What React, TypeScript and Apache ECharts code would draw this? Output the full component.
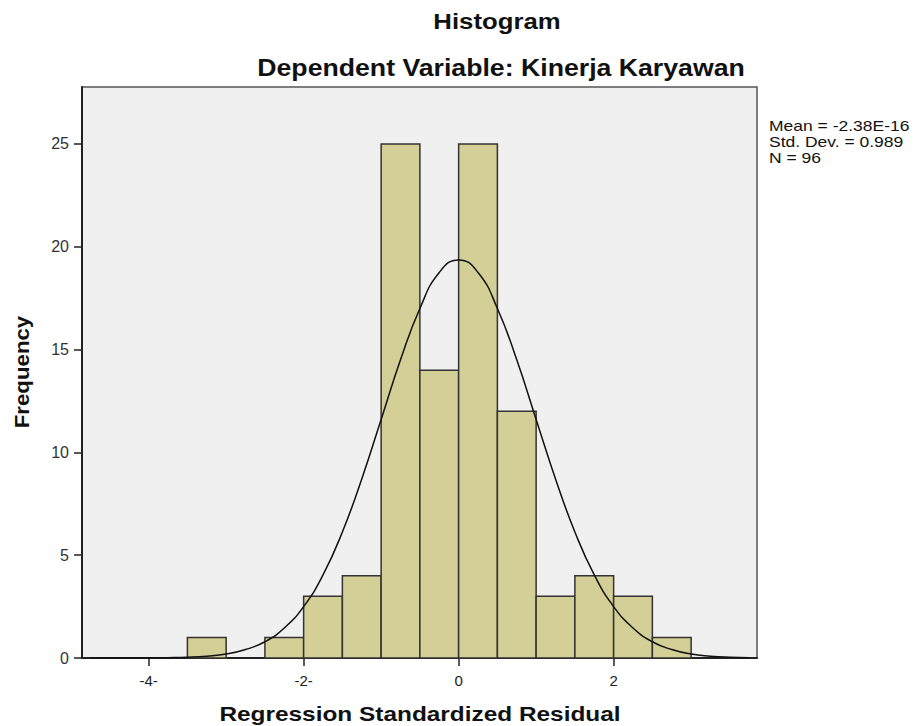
import React, { useEffect, useRef } from "react";
import * as echarts from "echarts";

// Histogram bins (width 0.5) and their frequencies
const binStarts = [-3.5, -2.5, -2.0, -1.5, -1.0, -0.5, 0.0, 0.5, 1.0, 1.5, 2.0, 2.5];
const binWidth = 0.5;
const frequencies = [1, 1, 3, 4, 25, 14, 25, 12, 3, 4, 3, 1];

// Normal curve
const curveX = [-4.75, -4.5, -4.25, -4.0, -3.75, -3.5, -3.25, -3.0, -2.75, -2.5, -2.25, -2.0, -1.75, -1.5, -1.25, -1.0, -0.75, -0.5, -0.25, 0.0, 0.25, 0.5, 0.75, 1.0, 1.25, 1.5, 1.75, 2.0, 2.25, 2.5, 2.75, 3.0, 3.25, 3.5, 3.75];
const curveY = [0.0002, 0.0006, 0.002, 0.005, 0.015, 0.037, 0.088, 0.19, 0.41, 0.79, 1.46, 2.5, 4.04, 6.13, 8.71, 11.6, 14.5, 17.0, 18.75, 19.36, 18.75, 17.0, 14.5, 11.6, 8.71, 6.13, 4.04, 2.5, 1.46, 0.79, 0.41, 0.19, 0.088, 0.037, 0.015];

const xTicks = [-4, -2, 0, 2];
const xTickLabels: Record<string, string> = { "-4": "-4-", "-2": "-2-", "0": "0", "2": "2" };
const yTicks = [0, 5, 10, 15, 20, 25];
const statsLines = ["Mean = -2.38E-16", "Std. Dev. = 0.989", "N = 96"];

const titleText = "Histogram";
const subtitleText = "Dependent Variable: Kinerja Karyawan";
const xName = "Regression Standardized Residual";
const yName = "Frequency";

export default function App() {
  const ref = useRef<HTMLDivElement>(null);
  useEffect(() => {
    if (!ref.current) return;
    const chart = echarts.init(ref.current, undefined, { renderer: "svg" });
    const font = "'Liberation Sans', Arial, sans-serif";
    const barData = binStarts.map((s, i) => [s, s + binWidth, frequencies[i]]);
    chart.setOption({
      animation: false,
      backgroundColor: "#ffffff",
      textStyle: { fontFamily: font },
      grid: {
        left: 82, top: 87, right: 157, bottom: 68,
        show: true, backgroundColor: "#f0f0f0", borderColor: "#555", borderWidth: 1.5,
      },
      xAxis: {
        type: "value", min: -4.86, max: 3.85,
        axisLine: { show: true, onZero: false, lineStyle: { color: "#222", width: 2 } },
        axisTick: { show: true, customValues: xTicks, length: 8, lineStyle: { color: "#222", width: 1.5 } },
        axisLabel: { customValues: xTicks, formatter: (v: number) => xTickLabels[String(v)] ?? String(v), color: "#222", fontSize: 15, fontFamily: font, margin: 15 },
        splitLine: { show: false },
      },
      yAxis: {
        type: "value", min: 0, max: 27.77,
        axisLine: { show: true, onZero: false, lineStyle: { color: "#222", width: 2 } },
        axisTick: { show: true, customValues: yTicks, length: 8, lineStyle: { color: "#222", width: 1.5 } },
        axisLabel: { customValues: yTicks, color: "#333", fontSize: 16, fontFamily: font, margin: 13 },
        splitLine: { show: false },
      },
      graphic: [
        { type: "text", x: 497, y: 9, scaleX: 1.12, style: { text: titleText, font: `bold 23px ${font}`, fill: "#111", align: "center", verticalAlign: "top" } },
        { type: "text", x: 501, y: 56, scaleX: 1.16, style: { text: subtitleText, font: `bold 23px ${font}`, fill: "#111", align: "center", verticalAlign: "top" } },
        { type: "text", x: 420, y: 704, scaleX: 1.22, style: { text: xName, font: `bold 20px ${font}`, fill: "#111", align: "center", verticalAlign: "top" } },
        { type: "text", x: 11, y: 372, rotation: Math.PI / 2, scaleX: 1.06, style: { text: yName, font: `bold 21px ${font}`, fill: "#111", align: "center", verticalAlign: "top" } },
        ...statsLines.map((t, i) => ({ type: "text", x: 769, y: 119 + i * 16, scaleX: 1.25, style: { text: t, font: `14px ${font}`, fill: "#111", align: "left", verticalAlign: "top" } })),
      ],
      series: [
        {
          type: "custom",
          data: barData,
          encode: { x: [0, 1], y: 2 },
          renderItem: (params: any, api: any) => {
            const p0 = api.coord([api.value(0), api.value(2)]);
            const p1 = api.coord([api.value(1), 0]);
            return {
              type: "rect",
              shape: { x: p0[0], y: p0[1], width: p1[0] - p0[0], height: p1[1] - p0[1] },
              style: { fill: "#d3cf96", stroke: "#333", lineWidth: 1.5 },
            };
          },
          z: 2,
        },
        {
          type: "line",
          data: curveX.map((x, i) => [x, curveY[i]]),
          smooth: true,
          symbol: "none",
          lineStyle: { color: "#111", width: 1.5 },
          z: 3,
        },
      ],
    });
    return () => chart.dispose();
  }, []);
  return (
    <div style={{ position: "fixed", left: 0, top: 0, width: 914, height: 726 }}>
      <div ref={ref} style={{ width: 914, height: 726 }} />
    </div>
  );
}
